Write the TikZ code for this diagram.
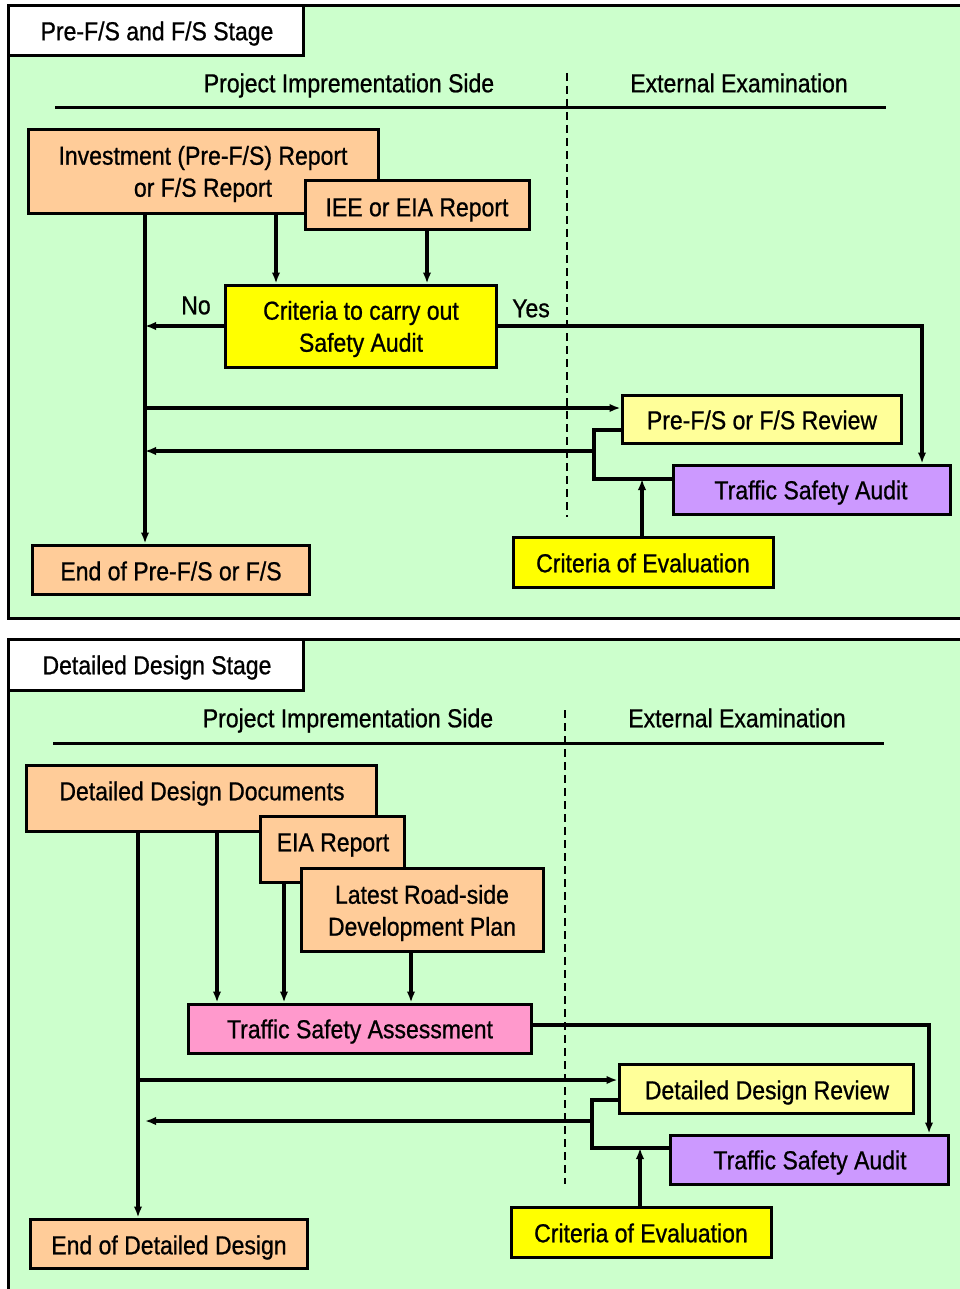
\documentclass[tikz,border=0pt]{standalone}
\usepackage{fontspec}
\setmainfont{Liberation Sans}[FakeStretch=0.885, FakeBold=0.8]
\usetikzlibrary{arrows.meta}
\definecolor{panelgreen}{HTML}{CCFFCC}
\definecolor{docorange}{HTML}{FFCC99}
\definecolor{crityellow}{HTML}{FFFF00}
\definecolor{revyellow}{HTML}{FFFF99}
\definecolor{auditpurple}{HTML}{CC99FF}
\definecolor{assesspink}{HTML}{FF99CC}
\begin{document}
\begin{tikzpicture}[x=1pt,y=-1pt,
  every node/.style={font=\fontsize{26}{32}\selectfont, inner sep=0pt},
  box/.style={draw=black, line width=3pt, rectangle, inner sep=0pt},
  lbl/.style={text height=18.5pt, text depth=0pt, anchor=center},
  two/.style={align=center, anchor=center},
  link/.style={line width=3.3pt, draw=black},
  arr/.style={link, -{Latex[length=11pt,width=8.5pt]}},
  sep/.style={line width=2.2pt, dash pattern=on 8pt off 5pt},
  rule/.style={line width=3pt}]
\useasboundingbox (0,0) rectangle (959,1289);
\fill[white] (0,0) rectangle (959,1289);

% ---------------- Pre-F/S and F/S stage ----------------
\draw[fill=panelgreen, line width=3pt] (8,6) rectangle (975,618);
\node[box, fill=white, minimum width=295pt, minimum height=50pt] (stage1) at (155.5,31) {};
\node[lbl] (stage1-t) at (157,31) {Pre-F/S and F/S Stage};

\node[lbl] (side1) at (349,83) {Project Imprementation Side};
\node[lbl] (ext1) at (739,83) {External Examination};
\coordinate (rule1a) at (55,108);
\coordinate (rule1b) at (886,108);
\draw[rule] (rule1a) -- (rule1b);
\coordinate (sep1a) at (567,73);
\coordinate (sep1b) at (567,517);
\draw[sep] (sep1a) -- (sep1b);

\node[box, fill=docorange, minimum width=350pt, minimum height=84pt] (inv) at (203,172) {};
\node[two] (inv-t) at (203,174) {Investment (Pre-F/S) Report\\or F/S Report};
\node[box, fill=docorange, minimum width=224pt, minimum height=49pt] (iee) at (417,205.5) {};
\node[lbl] (iee-t) at (417,207) {IEE or EIA Report};
\node[box, fill=crityellow, minimum width=271pt, minimum height=82pt] (crit) at (360.5,326) {};
\node[two] (crit-t) at (361,329) {Criteria to carry out\\Safety Audit};
\node[box, fill=revyellow, minimum width=279pt, minimum height=48pt] (rev1) at (761.5,419) {};
\node[lbl] (rev1-t) at (762,420) {Pre-F/S or F/S Review};
\node[box, fill=auditpurple, minimum width=277pt, minimum height=49pt] (tsa1) at (811.5,489.5) {};
\node[lbl] (tsa1-t) at (811,490) {Traffic Safety Audit};
\node[box, fill=crityellow, minimum width=260pt, minimum height=50pt] (eval1) at (643,562) {};
\node[lbl] (eval1-t) at (643,563) {Criteria of Evaluation};
\node[box, fill=docorange, minimum width=277pt, minimum height=49pt] (end1) at (170.5,569.5) {};
\node[lbl] (end1-t) at (171,571) {End of Pre-F/S or F/S};

\coordinate (spine1) at (145,0);
\coordinate (xa1) at (276,0);
\coordinate (xb1) at (427,0);
\coordinate (xyes1) at (922,0);
\coordinate (xfb1) at (594,0);
\coordinate (xev1) at (642,0);
\coordinate (yfw1) at (0,408);
\coordinate (yout1) at (0,430);
\coordinate (yback1) at (0,451);
\coordinate (yin1) at (0,479);

\draw[arr] (inv.south -| spine1) -- (end1.north -| spine1);
\draw[arr] (inv.south -| xa1) -- (crit.north -| xa1);
\draw[arr] (iee.south -| xb1) -- (crit.north -| xb1);
\draw[arr] (crit.west) -- (crit.west -| spine1);
\node[lbl] (no1) at (196,305) {No};
\draw[arr] (crit.east) -- (crit.east -| xyes1) -- (tsa1.north -| xyes1);
\node[lbl] (yes1) at (531,308) {Yes};
\draw[arr] (spine1 |- yfw1) -- (rev1.west |- yfw1);
\draw[link] (rev1.west |- yout1) -- (xfb1 |- yout1) -- (xfb1 |- yin1) -- (tsa1.west |- yin1);
\draw[arr] (xfb1 |- yback1) -- (spine1 |- yback1);
\draw[arr] (eval1.north -| xev1) -- (xev1 |- yin1);

% ---------------- Detailed design stage ----------------
\draw[fill=panelgreen, line width=3pt] (8,639.5) rectangle (975,1300);
\node[box, fill=white, minimum width=295pt, minimum height=51pt] (stage2) at (155.5,664.5) {};
\node[lbl] (stage2-t) at (157,665) {Detailed Design Stage};

\node[lbl] (side2) at (348,718) {Project Imprementation Side};
\node[lbl] (ext2) at (737,718) {External Examination};
\coordinate (rule2a) at (53,743);
\coordinate (rule2b) at (884,743);
\draw[rule] (rule2a) -- (rule2b);
\coordinate (sep2a) at (565,710);
\coordinate (sep2b) at (565,1184);
\draw[sep] (sep2a) -- (sep2b);

\node[box, fill=docorange, minimum width=350pt, minimum height=66pt] (ddd) at (201,798) {};
\node[lbl] (ddd-t) at (202,791) {Detailed Design Documents};
\node[box, fill=docorange, minimum width=144pt, minimum height=66pt] (eia) at (332,849) {};
\node[lbl] (eia-t) at (333,842) {EIA Report};
\node[box, fill=docorange, minimum width=242pt, minimum height=83pt] (lrd) at (422,909.5) {};
\node[two] (lrd-t) at (422,913) {Latest Road-side\\Development Plan};
\node[box, fill=assesspink, minimum width=343pt, minimum height=49pt] (tsas) at (359.5,1028.5) {};
\node[lbl] (tsas-t) at (360,1029) {Traffic Safety Assessment};
\node[box, fill=revyellow, minimum width=294pt, minimum height=49pt] (rev2) at (766,1088.5) {};
\node[lbl] (rev2-t) at (767,1090) {Detailed Design Review};
\node[box, fill=auditpurple, minimum width=278pt, minimum height=49pt] (tsa2) at (809,1159.5) {};
\node[lbl] (tsa2-t) at (810,1160) {Traffic Safety Audit};
\node[box, fill=crityellow, minimum width=260pt, minimum height=50pt] (eval2) at (641,1232) {};
\node[lbl] (eval2-t) at (641,1233) {Criteria of Evaluation};
\node[box, fill=docorange, minimum width=277pt, minimum height=49pt] (end2) at (168.5,1243.5) {};
\node[lbl] (end2-t) at (169,1245) {End of Detailed Design};

\coordinate (spine2) at (138,0);
\coordinate (xa2) at (217,0);
\coordinate (xb2) at (284,0);
\coordinate (xc2) at (411,0);
\coordinate (xdown2) at (929,0);
\coordinate (xfb2) at (592,0);
\coordinate (xev2) at (640,0);
\coordinate (xhead2) at (145,0);
\coordinate (ytsa2) at (0,1025);
\coordinate (yfw2) at (0,1080);
\coordinate (yout2) at (0,1100);
\coordinate (yback2) at (0,1121);
\coordinate (yin2) at (0,1148);

\draw[arr] (ddd.south -| spine2) -- (end2.north -| spine2);
\draw[arr] (ddd.south -| xa2) -- (tsas.north -| xa2);
\draw[arr] (eia.south -| xb2) -- (tsas.north -| xb2);
\draw[arr] (lrd.south -| xc2) -- (tsas.north -| xc2);
\draw[arr] (tsas.east |- ytsa2) -- (xdown2 |- ytsa2) -- (tsa2.north -| xdown2);
\draw[arr] (spine2 |- yfw2) -- (rev2.west |- yfw2);
\draw[link] (rev2.west |- yout2) -- (xfb2 |- yout2) -- (xfb2 |- yin2) -- (tsa2.west |- yin2);
\draw[arr] (xfb2 |- yback2) -- (xhead2 |- yback2);
\draw[arr] (eval2.north -| xev2) -- (xev2 |- yin2);
\end{tikzpicture}
\end{document}
